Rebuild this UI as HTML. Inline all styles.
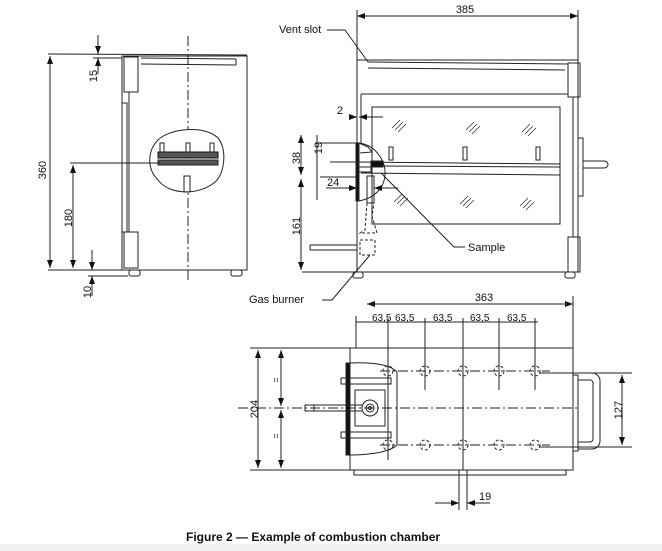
<!DOCTYPE html>
<html><head><meta charset="utf-8"><style>
html,body{margin:0;padding:0;background:#fff;}
svg{display:block;}
text{font-family:"Liberation Sans",sans-serif;fill:#111;}
</style></head><body>
<svg width="662" height="551" viewBox="0 0 662 551" xmlns="http://www.w3.org/2000/svg">
<defs>
<marker id="a" markerWidth="8" markerHeight="6" refX="8" refY="3" orient="auto-start-reverse" markerUnits="userSpaceOnUse"><path d="M0,0 L8,3 L0,6 z" fill="#111"/></marker>
</defs>
<rect x="0" y="544" width="662" height="7" fill="#f1f1f1"/>
<g stroke="#222" stroke-width="1" fill="none">
<!-- LEFT VIEW -->
<line x1="48" y1="54" x2="247" y2="55"/>
<rect x="122" y="56" width="125" height="214"/>
<line x1="141" y1="58" x2="236" y2="59"/><line x1="141" y1="64" x2="236" y2="65"/><line x1="236" y1="59" x2="236" y2="65"/>
<rect x="124" y="57" width="14" height="35"/>
<rect x="124" y="232" width="14" height="36"/>
<rect x="122" y="103" width="5" height="129"/>
<line x1="129" y1="92" x2="129" y2="232"/>
<rect x="129" y="270" width="11" height="6" rx="2"/>
<rect x="231" y="270" width="11" height="6" rx="2"/>
<line x1="188" y1="36" x2="188" y2="282" stroke-dasharray="10,3,2,3"/>
<path d="M158,140 C170,128 205,125 218,138 C228,150 224,175 215,182 C200,195 170,196 158,180 C146,168 148,150 158,140 z" fill="#fff"/>
<rect x="158" y="152" width="60" height="6" fill="#555" stroke="#111"/>
<rect x="158" y="160" width="60" height="5" fill="#555"/>
<rect x="160" y="143" width="4" height="9"/><rect x="186" y="143" width="4" height="9"/><rect x="210" y="143" width="4" height="9"/>
<rect x="184" y="176" width="6" height="16"/>
<line x1="70" y1="163" x2="160" y2="163"/>
<line x1="48" y1="270" x2="125" y2="270"/>
<line x1="50" y1="56" x2="50" y2="268" marker-start="url(#a)" marker-end="url(#a)"/>
<line x1="73" y1="165" x2="73" y2="268" marker-start="url(#a)" marker-end="url(#a)"/>
<line x1="93" y1="58" x2="122" y2="58"/>
<line x1="98" y1="35" x2="98" y2="54" marker-end="url(#a)"/>
<line x1="98" y1="74" x2="98" y2="58" marker-end="url(#a)"/>
<line x1="88" y1="276" x2="128" y2="276"/>
<line x1="92" y1="250" x2="92" y2="270" marker-end="url(#a)"/>
<line x1="92" y1="296" x2="92" y2="276" marker-end="url(#a)"/>
<!-- RIGHT VIEW -->
<line x1="357" y1="16" x2="578" y2="16" marker-start="url(#a)" marker-end="url(#a)"/>
<line x1="357" y1="10" x2="357" y2="60"/><line x1="578" y1="10" x2="578" y2="62"/>
<rect x="357" y="60" width="221" height="212"/>
<line x1="368" y1="62" x2="568" y2="64"/><line x1="368" y1="68" x2="565" y2="70"/>
<rect x="568" y="63" width="12" height="34"/>
<rect x="568" y="237" width="12" height="35"/>
<line x1="361" y1="94" x2="568" y2="94"/><line x1="361" y1="94" x2="361" y2="143"/>
<line x1="573" y1="97" x2="573" y2="237"/>
<rect x="372" y="107" width="188" height="117"/>
<line x1="358" y1="162" x2="560" y2="164"/><line x1="371" y1="166" x2="560" y2="167"/>
<line x1="361" y1="173" x2="560" y2="175"/>
<rect x="357" y="167" width="14" height="5"/>
<rect x="371" y="161" width="12" height="6" fill="#111"/>
<rect x="356" y="143" width="3" height="58" fill="#111"/>
<path d="M359,143 C375,145 386,160 385,175 C384,188 375,198 359,201"/>
<path d="M359,143 L368,147 L372,152 L360,153"/>
<rect x="389" y="147" width="4" height="13"/><rect x="463" y="147" width="4" height="13"/><rect x="536" y="147" width="4" height="13"/>
<rect x="578" y="138" width="5" height="58"/>
<line x1="583" y1="161" x2="604" y2="161"/><line x1="583" y1="168" x2="604" y2="168"/><path d="M604,161 a4,3.5 0 0 1 0,7"/>
<rect x="367" y="176" width="7" height="27"/>
<g stroke-dasharray="3,2"><path d="M367,203 L365,230 L360,233 L377,233 L372,216 L374,203"/><rect x="360" y="240" width="15" height="15"/></g>
<line x1="310" y1="245" x2="357" y2="245"/><line x1="310" y1="250" x2="357" y2="250"/><path d="M310,245 L310,250"/>
<rect x="353" y="272" width="10" height="6" rx="2"/><rect x="565" y="272" width="10" height="6" rx="2"/>
<line x1="352" y1="117" x2="357" y2="117" marker-end="url(#a)"/>
<line x1="371" y1="117" x2="383" y2="117"/><line x1="359" y1="117" x2="371" y2="117" marker-start="url(#a)"/>
<line x1="330" y1="162" x2="358" y2="162"/><line x1="320" y1="177" x2="358" y2="177"/><line x1="315" y1="143" x2="358" y2="143"/><line x1="302" y1="272" x2="357" y2="272"/>
<line x1="302" y1="145" x2="302" y2="270" stroke="none"/>
<line x1="301" y1="135" x2="301" y2="175" marker-start="url(#a)" marker-end="url(#a)"/>
<line x1="301" y1="179" x2="301" y2="270" marker-start="url(#a)" marker-end="url(#a)"/>
<line x1="317" y1="135" x2="317" y2="200"/>
<line x1="326" y1="188" x2="357" y2="188" marker-end="url(#a)"/>
<line x1="398" y1="188" x2="374" y2="188" marker-end="url(#a)"/>
<path d="M327,30 L345,30 L368,62"/>
<path d="M381,173 L454,247 L465,247"/>
<path d="M322,300 L332,300 L370,255"/>
<g stroke-width="0.7"><path d="M392,128 l8,-8 M395,130 l8,-8 M398,132 l8,-8 M466,130 l8,-8 M469,132 l8,-8 M472,134 l8,-8 M522,132 l8,-8 M525,134 l8,-8 M528,136 l8,-8 M394,202 l8,-8 M397,204 l8,-8 M400,206 l8,-8 M460,204 l8,-8 M463,206 l8,-8 M466,208 l8,-8 M520,206 l8,-8 M523,208 l8,-8 M526,210 l8,-8"/></g>
<!-- BOTTOM VIEW -->
<line x1="367" y1="304" x2="573" y2="304" marker-start="url(#a)" marker-end="url(#a)"/>
<line x1="573" y1="296" x2="573" y2="348"/>
<line x1="356" y1="322" x2="538" y2="322"/>
<g><line x1="356" y1="316" x2="356" y2="348"/><line x1="388" y1="318" x2="388" y2="460"/><line x1="425" y1="318" x2="425" y2="390"/><line x1="463" y1="318" x2="463" y2="470"/><line x1="499" y1="318" x2="499" y2="390"/><line x1="535" y1="318" x2="535" y2="390"/></g>
<rect x="350" y="348" width="223" height="122"/>
<rect x="354" y="470" width="212" height="5"/>
<path d="M573,375 h5 v76 h-5 M578,373 h14 a8,8 0 0 1 8,8 v60 a8,8 0 0 1 -8,8 h-14 M578,380 h12 a3,3 0 0 1 3,3 v56 a3,3 0 0 1 -3,3 h-12"/>
<line x1="238" y1="408" x2="580" y2="408" stroke-dasharray="10,3,2,3"/>
<line x1="380" y1="371" x2="550" y2="371" stroke-dasharray="10,3,2,3"/>
<line x1="380" y1="445" x2="550" y2="445" stroke-dasharray="10,3,2,3"/>
<g stroke-dasharray="3,2"><circle cx="388" cy="371" r="5"/><circle cx="425" cy="371" r="5"/><circle cx="463" cy="371" r="5"/><circle cx="499" cy="371" r="5"/><circle cx="535" cy="371" r="5"/><circle cx="388" cy="445" r="5"/><circle cx="425" cy="445" r="5"/><circle cx="463" cy="445" r="5"/><circle cx="499" cy="445" r="5"/><circle cx="535" cy="445" r="5"/></g>
<rect x="346" y="363" width="4" height="92" fill="#111"/>
<rect x="341" y="378" width="50" height="6"/><rect x="341" y="432" width="50" height="6"/>
<path d="M350,363 C370,362 390,364 397,372 L397,445 C390,452 370,455 350,455"/>
<rect x="355" y="390" width="30" height="36"/>
<circle cx="370" cy="408" r="8"/><circle cx="370" cy="408" r="4"/><circle cx="370" cy="408" r="1.5"/>
<line x1="314" y1="405" x2="362" y2="405"/><line x1="314" y1="411" x2="362" y2="411"/><rect x="305" y="405" width="9" height="6"/>
<line x1="250" y1="348" x2="350" y2="348"/><line x1="250" y1="470" x2="354" y2="470"/>
<line x1="258" y1="350" x2="258" y2="468" marker-start="url(#a)" marker-end="url(#a)"/>
<line x1="281" y1="350" x2="281" y2="406" marker-start="url(#a)" marker-end="url(#a)"/>
<line x1="281" y1="410" x2="281" y2="468" marker-start="url(#a)" marker-end="url(#a)"/>
<line x1="540" y1="373" x2="632" y2="373"/><line x1="540" y1="447" x2="632" y2="447"/>
<line x1="622" y1="375" x2="622" y2="445" marker-start="url(#a)" marker-end="url(#a)"/>
<line x1="459" y1="470" x2="459" y2="510"/><line x1="467" y1="470" x2="467" y2="510"/>
<line x1="435" y1="503" x2="459" y2="503" marker-end="url(#a)"/>
<line x1="490" y1="503" x2="467" y2="503" marker-end="url(#a)"/>
</g>
<g font-size="11">
<text x="36" y="170" transform="rotate(-90 41 165)" text-anchor="middle">360</text>
<text x="68" y="222" transform="rotate(-90 68 218)" text-anchor="middle">180</text>
<text x="93" y="80" transform="rotate(-90 93 76)" text-anchor="middle">15</text>
<text x="87" y="296" transform="rotate(-90 87 292)" text-anchor="middle">10</text>
<text x="465" y="13" text-anchor="middle">385</text>
<text x="279" y="33">Vent slot</text>
<text x="337" y="114">2</text>
<text x="318" y="152" transform="rotate(-90 318 148)" text-anchor="middle">19</text>
<text x="296" y="162" transform="rotate(-90 296 158)" text-anchor="middle">38</text>
<text x="327" y="186">24</text>
<text x="296" y="230" transform="rotate(-90 296 226)" text-anchor="middle">161</text>
<text x="468" y="251">Sample</text>
<text x="249" y="303">Gas burner</text>
<text x="484" y="301" text-anchor="middle">363</text>
<text x="372" y="321" font-size="10">63,5</text><text x="395" y="321" font-size="10">63,5</text><text x="433" y="321" font-size="10">63,5</text><text x="470" y="321" font-size="10">63,5</text><text x="507" y="321" font-size="10">63,5</text>
<text x="254" y="413" transform="rotate(-90 254 409)" text-anchor="middle">204</text>
<text x="277" y="382" transform="rotate(-90 277 380)" text-anchor="middle" font-size="9">=</text>
<text x="277" y="438" transform="rotate(-90 277 436)" text-anchor="middle" font-size="9">=</text>
<text x="618" y="414" transform="rotate(-90 618 410)" text-anchor="middle">127</text>
<text x="479" y="500">19</text>
<text x="186" y="541" font-size="12" font-weight="bold">Figure 2 — Example of combustion chamber</text>
</g>
</svg>
</body></html>
